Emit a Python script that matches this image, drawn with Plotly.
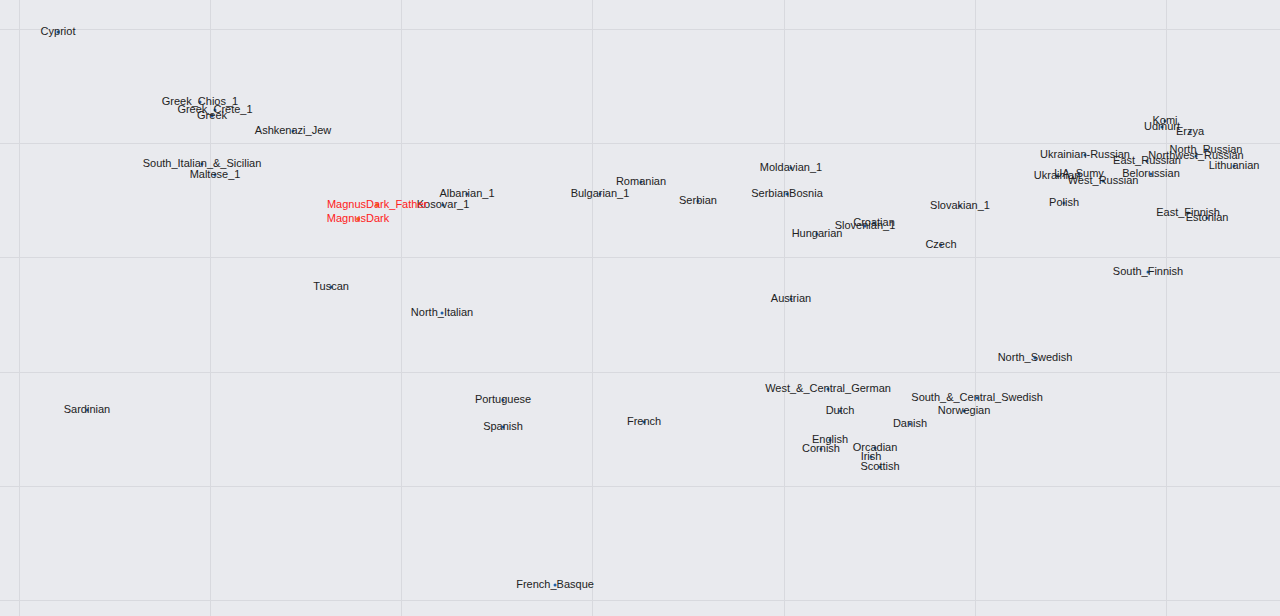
import plotly.graph_objects as go

# population labels and their PCA-style coordinates
pops = [
    "Cypriot", "Greek_Chios_1", "Greek_Crete_1", "Greek", "Ashkenazi_Jew",
    "South_Italian_&_Sicilian", "Maltese_1", "Kosovar_1", "Albanian_1",
    "Bulgarian_1", "Romanian", "Serbian", "Moldavian_1", "SerbianBosnia",
    "Hungarian", "Slovenian_1", "Croatian", "Slovakian_1", "Czech", "Tuscan",
    "North_Italian", "Austrian", "Ukrainian-Russian", "East_Russian",
    "Northwest_Russian", "North_Russian", "Lithuanian", "Komi", "Udmurt",
    "Erzya", "Ukrainian", "UA_Sumy", "West_Russian", "Belorussian", "Polish",
    "East_Finnish", "Estonian", "South_Finnish", "North_Swedish",
    "West_&_Central_German", "South_&_Central_Swedish", "Norwegian", "Dutch",
    "Danish", "English", "Cornish", "Orcadian", "Irish", "Scottish",
    "Sardinian", "Portuguese", "Spanish", "French", "French_Basque",
]
pc1 = [
    -0.07594, -0.06109, -0.05952, -0.05983, -0.05136,
    -0.06088, -0.05952, -0.03567, -0.03316,
    -0.01925, -0.01496, -0.00900, 0.00073, 0.00031,
    0.00345, 0.00847, 0.00941, 0.01841, 0.01642, -0.04738,
    -0.03577, 0.00073, 0.03148, 0.03797,
    0.04310, 0.04414, 0.04707, 0.03985, 0.03954,
    0.04247, 0.02856, 0.03086, 0.03337, 0.03839, 0.02929,
    0.04226, 0.04425, 0.03807, 0.02625,
    0.00460, 0.02019, 0.01883, 0.00586,
    0.01318, 0.00481, 0.00387, 0.00952, 0.00910, 0.01004,
    -0.07291, -0.02939, -0.02939, -0.01464, -0.02395,
]
pc2 = [
    0.03955, 0.02730, 0.02590, 0.02485, 0.02223,
    0.01645, 0.01453, 0.00928, 0.01120,
    0.01120, 0.01330, 0.00998, 0.01575, 0.01120,
    0.00420, 0.00560, 0.00613, 0.00910, 0.00228, -0.00507,
    -0.00962, -0.00717, 0.01803, 0.01698,
    0.01785, 0.01890, 0.01610, 0.02398, 0.02293,
    0.02205, 0.01435, 0.01470, 0.01348, 0.01470, 0.00963,
    0.00788, 0.00700, -0.00244, -0.01749,
    -0.02292, -0.02449, -0.02677, -0.02677,
    -0.02904, -0.03184, -0.03342, -0.03324, -0.03482, -0.03657,
    -0.02659, -0.02484, -0.02957, -0.02869, -0.05722,
]

# the two samples being compared
targets = ["MagnusDark_Father", "MagnusDark"]
target_pc1 = [-0.04257, -0.04456]
target_pc2 = [0.00928, 0.00683]

fig = go.Figure()

fig.add_trace(
    go.Scatter(
        x=pc1,
        y=pc2,
        mode="markers+text",
        text=pops,
        textposition="middle center",
        textfont=dict(family="Liberation Sans, Arial", size=11, color="#222"),
        marker=dict(size=3, color="#1f5fa8"),
        hoverinfo="text",
        showlegend=False,
    )
)

fig.add_trace(
    go.Scatter(
        x=target_pc1,
        y=target_pc2,
        mode="markers+text",
        text=targets,
        textposition="middle center",
        textfont=dict(family="Liberation Sans, Arial", size=11, color="#ff2020"),
        marker=dict(size=4, color="#f07020"),
        hoverinfo="text",
        showlegend=False,
    )
)

axis_style = dict(
    showticklabels=False,
    zeroline=False,
    showgrid=True,
    gridcolor="#d8d9de",
    gridwidth=1,
    ticks="",
    title=None,
)

fig.update_layout(
    width=1280,
    height=616,
    margin=dict(l=0, r=0, t=0, b=0),
    paper_bgcolor="#e9eaee",
    plot_bgcolor="#e9eaee",
    xaxis=dict(range=[-0.08201, 0.05188], dtick=0.02, tick0=0, **axis_style),
    yaxis=dict(range=[-0.06264, 0.04514], dtick=0.02, tick0=0, **axis_style),
)

# drop the browser's default body margin so the plot fills the window
fig.write_html(
    "out.html",
    config={"displayModeBar": False},
    post_script="document.body.style.margin='0';document.body.style.overflow='hidden';",
)
